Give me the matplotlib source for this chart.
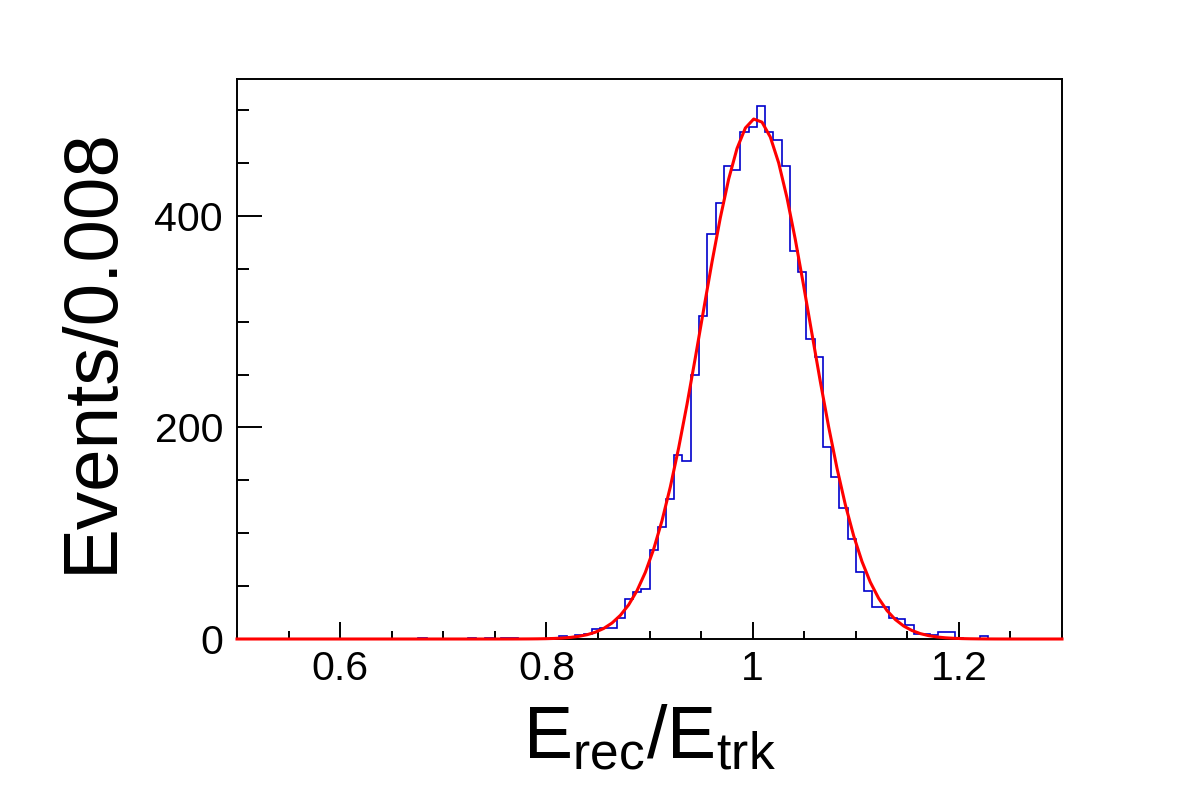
import numpy as np
import matplotlib
matplotlib.use("Agg")
import matplotlib.pyplot as plt
from matplotlib.ticker import MultipleLocator, FuncFormatter

plt.rcParams["font.family"] = ["Liberation Sans", "DejaVu Sans"]
plt.rcParams["mathtext.fontset"] = "custom"
plt.rcParams["mathtext.rm"] = "Liberation Sans"
plt.rcParams["mathtext.it"] = "Liberation Sans:italic"

# histogram: 100 bins of 0.008 between 0.5 and 1.3
x_min, x_max, bin_width = 0.5, 1.3, 0.008
counts = [0] * 22 + [1, 0, 0, 0, 0, 0, 1, 0, 1, 0, 1, 1, 0, 0, 0, 0, 1,
          3, 2, 4, 5, 9, 10, 10, 20, 38, 44, 47,
          84, 106, 132, 174, 168, 250, 305, 383, 412, 447,
          443, 479, 484, 504, 479, 472, 447, 367, 347, 284,
          267, 182, 153, 124, 95, 63, 45, 30, 30, 20,
          19, 13, 5, 5, 4, 7, 7, 1, 0, 0, 3] + [0] * 9

# gaussian fit parameters
fit_amp, fit_mean, fit_sigma = 492.0, 1.003, 0.0528

edges = x_min + bin_width * np.arange(len(counts) + 1)
xf = np.linspace(x_min, x_max, 100)
yf = fit_amp * np.exp(-0.5 * ((xf - fit_mean) / fit_sigma) ** 2)

fig = plt.figure(figsize=(11.82, 8.0), dpi=100)
ax = fig.add_axes([237 / 1182, 1 - 639 / 800, 825 / 1182, 560 / 800])

ax.stairs(counts, edges, color="#0000cc", lw=1.2, baseline=0)
ax.plot(xf, yf, color="#ff0000", lw=2.2, clip_on=False, zorder=4)

ax.set_xlim(x_min, x_max)
ax.set_ylim(0, 529.5)

ax.xaxis.set_major_locator(MultipleLocator(0.2))
ax.xaxis.set_minor_locator(MultipleLocator(0.05))
ax.yaxis.set_major_locator(MultipleLocator(200))
ax.yaxis.set_minor_locator(MultipleLocator(50))
ax.xaxis.set_major_formatter(FuncFormatter(lambda v, p: "%g" % round(v, 3)))

ax.tick_params(which="both", direction="in", width=1.4, labelsize=29.5,
               top=False, right=False)
ax.tick_params(axis="x", which="major", length=12.2, pad=8)
ax.tick_params(axis="x", which="minor", length=6.1)
ax.tick_params(axis="y", which="major", length=18, pad=10)
ax.tick_params(axis="y", which="minor", length=8.6)
for s in ax.spines.values():
    s.set_linewidth(1.4)

fig.text(649 / 1182, 1 - 758 / 800, r"$\mathrm{E_{rec}/E_{trk}}$",
         fontsize=53, ha="center", va="baseline")
fig.text(112 / 1182, 1 - 350 / 800, "Events/0.008", fontsize=55,
         rotation=90, rotation_mode="anchor", ha="center", va="baseline")

fig.savefig("out.png", dpi=100)
